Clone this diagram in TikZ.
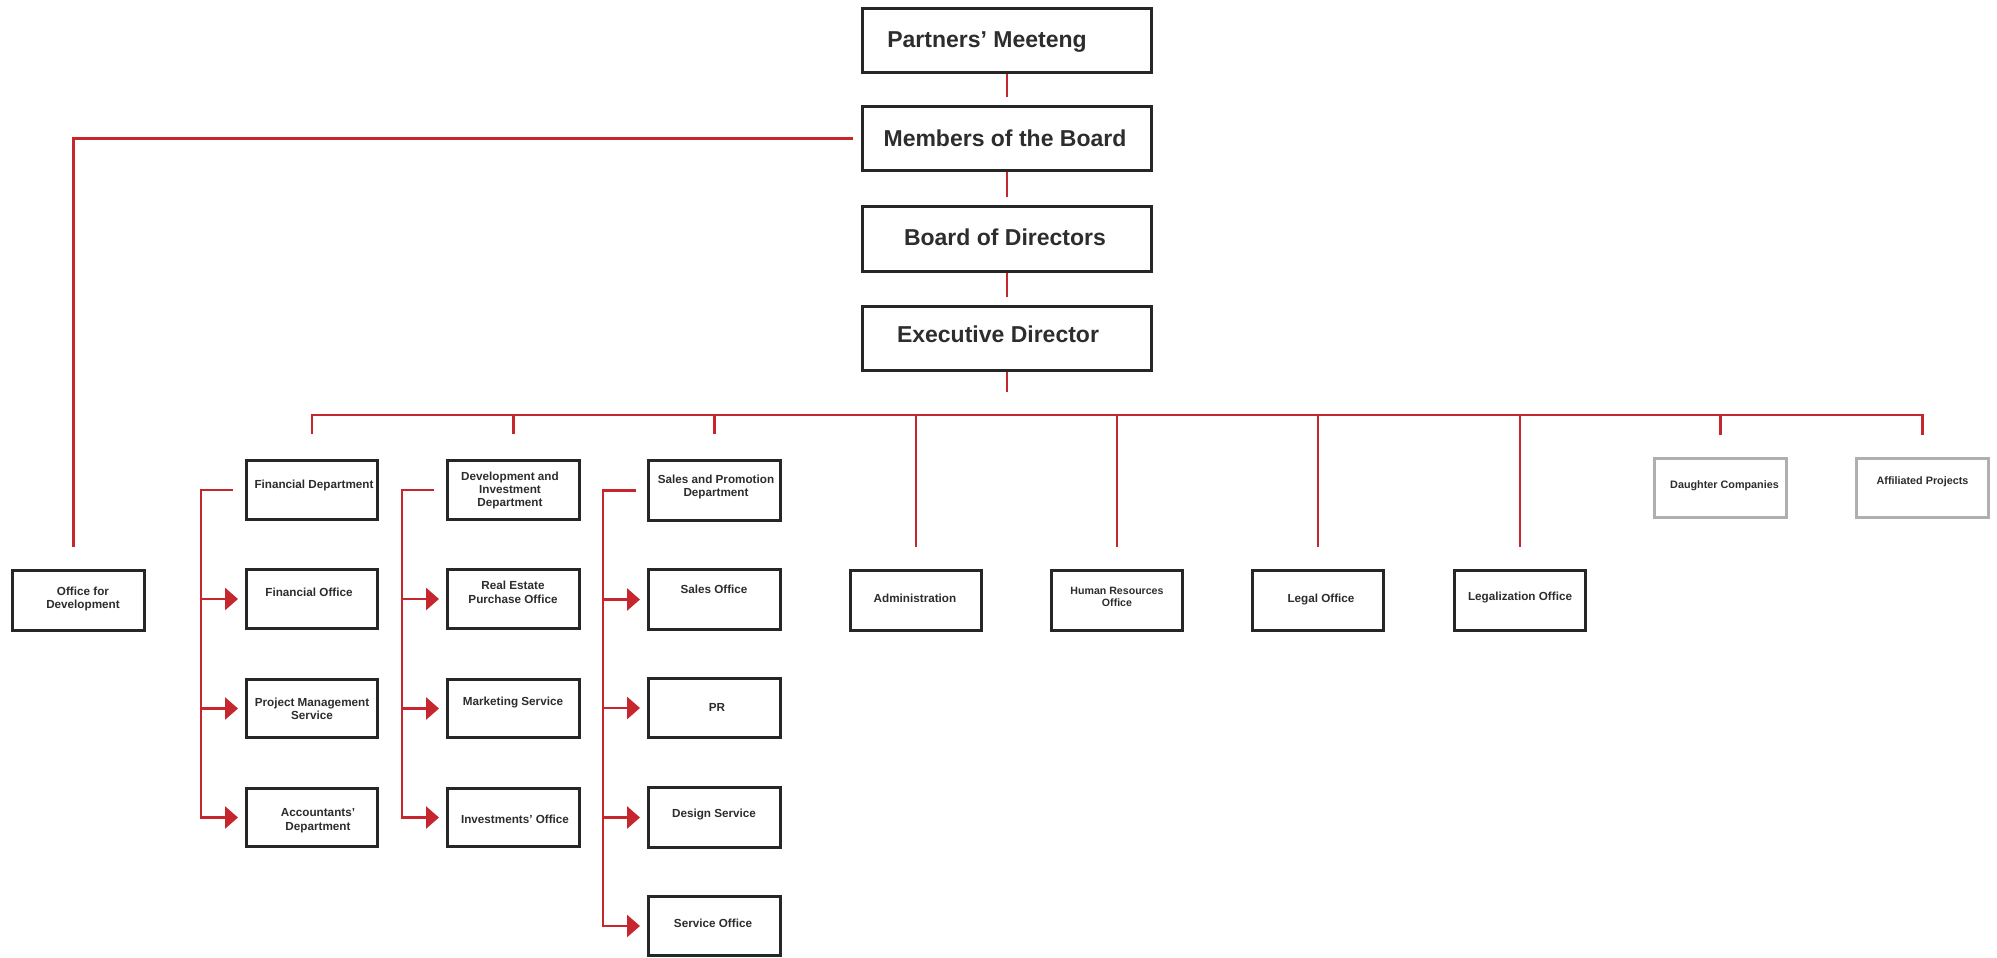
\documentclass[tikz,border=0pt]{standalone}
\usepackage{fontspec}
\setmainfont{Liberation Sans}
\usetikzlibrary{arrows.meta,calc}
\definecolor{redc}{RGB}{198,38,45}
\definecolor{boxc}{RGB}{38,38,38}
\definecolor{txtc}{RGB}{45,45,45}
\definecolor{grayc}{RGB}{175,175,175}
\begin{document}
\begin{tikzpicture}[x=1pt,y=-1pt,
  bx/.style n args={2}{draw=boxc,line width=3pt,fill=white,inner sep=0pt,minimum width=#1pt,minimum height=#2pt},
  gbx/.style n args={2}{bx={#1}{#2},draw=grayc},
  bigt/.style={font=\fontsize{23}{27}\selectfont\bfseries,text=txtc,inner sep=0pt},
  smt/.style={font=\fontsize{11.7}{13.5}\selectfont\bfseries,text=txtc,align=center,inner sep=0pt},
  redline/.style={draw=redc,line width=2.8pt},
  redarr/.style={redline,-{Triangle[length=13pt,width=22pt]}}]
\useasboundingbox (0,0) rectangle (1997,958);
% top chain
\node[bx={289}{64}] (pm) at (1007,40.5) {};
\node[bx={289}{64}] (mb) at (1007,138.5) {};
\node[bx={289}{65}] (bd) at (1007,239) {};
\node[bx={289}{64}] (ed) at (1007,338.5) {};
\node[bigt] (pm-t) at (987,42) {Partners’ Meeteng};
\node[bigt] (mb-t) at (1005,138) {Members of the Board};
\node[bigt] (bd-t) at (1005,237) {Board of Directors};
\node[bigt] (ed-t) at (998,334) {Executive Director};
% office for development
\node[bx={132}{60}] (ofd) at (78.5,600.5) {};
\node[smt] (ofd-t) at (83,599) {Office for\\Development};
% financial column
\node[bx={131}{59}] (find) at (312,490) {};
\node[bx={131}{59}] (fo) at (312,599) {};
\node[bx={131}{58}] (pms) at (312,708.5) {};
\node[bx={131}{58}] (acc) at (312,817.5) {};
\node[smt] (find-t) at (314,485) {Financial Department};
\node[smt] (fo-t) at (309,592) {Financial Office};
\node[smt] (pms-t) at (312,709) {Project Management\\Service};
\node[smt] (acc-t) at (318,820.5) {Accountants’\\Department};
% development column
\node[bx={132}{59}] (dev) at (513.5,490) {};
\node[bx={132}{59}] (rep) at (513.5,599) {};
\node[bx={132}{58}] (mkt) at (513.5,708.5) {};
\node[bx={132}{58}] (inv) at (513.5,817.5) {};
\node[smt,font=\fontsize{11.7}{13}\selectfont\bfseries] (dev-t) at (510,490) {Development and\\Investment\\Department};
\node[smt] (rep-t) at (513,592.5) {Real Estate\\Purchase Office};
\node[smt] (mkt-t) at (513,702) {Marketing Service};
\node[smt] (inv-t) at (515,819) {Investments’ Office};
% sales column
\node[bx={132}{60}] (sal) at (714.5,490.5) {};
\node[bx={132}{60}] (so) at (714.5,599.5) {};
\node[bx={132}{59}] (pr) at (714.5,708) {};
\node[bx={132}{60}] (des) at (714.5,817.5) {};
\node[bx={132}{59}] (svc) at (714.5,926) {};
\node[smt,font=\fontsize{11.7}{13}\selectfont\bfseries] (sal-t) at (716,486.5) {Sales and Promotion\\Department};
\node[smt] (so-t) at (714,589) {Sales Office};
\node[smt] (pr-t) at (717,707) {PR};
\node[smt] (des-t) at (714,814) {Design Service};
\node[smt] (svc-t) at (713,923) {Service Office};
% row of offices
\node[bx={131}{60}] (adm) at (916,600.5) {};
\node[bx={131}{60}] (hr) at (1117,600.5) {};
\node[bx={131}{60}] (leg) at (1318,600.5) {};
\node[bx={131}{60}] (lgz) at (1520,600.5) {};
\node[smt] (adm-t) at (915,598) {Administration};
\node[smt,font=\fontsize{10.6}{12}\selectfont\bfseries] (hr-t) at (1117,597) {Human Resources\\Office};
\node[smt] (leg-t) at (1321,599) {Legal Office};
\node[smt] (lgz-t) at (1520,597) {Legalization Office};
% gray boxes
\node[gbx={132}{59}] (dau) at (1720.5,488) {};
\node[gbx={132}{59}] (aff) at (1922.5,488) {};
\node[smt,font=\fontsize{10.8}{12}\selectfont\bfseries] (dau-t) at (1724.5,486) {Daughter Companies};
\node[smt,font=\fontsize{10.8}{12}\selectfont\bfseries] (aff-t) at (1922.5,482) {Affiliated Projects};
% connectors top
\draw[redline,shorten >=8pt] (pm.south) -- (mb.north);
\draw[redline,shorten >=8pt] (mb.south) -- (bd.north);
\draw[redline,shorten >=8pt] (bd.south) -- (ed.north);
\coordinate (bus) at (1007,415);
\draw[redline] (ed.south) -- ++(0,20);
\draw[redline] ([xshift=-8pt]mb.west) -| ([xshift=-5pt,yshift=22pt]ofd.north);
% bus
\draw[redline] ([yshift=25pt]find.north) -- (find.north |- bus) -- (aff.north |- bus) -- ([yshift=22pt]aff.north);
\draw[redline] (dev.north |- bus) -- ([yshift=25pt]dev.north);
\draw[redline] (sal.north |- bus) -- ([yshift=25pt]sal.north);
\draw[redline] (adm.north |- bus) -- ([yshift=22pt]adm.north);
\draw[redline] (hr.north |- bus) -- ([yshift=22pt]hr.north);
\draw[redline] (leg.north |- bus) -- ([yshift=22pt]leg.north);
\draw[redline] (lgz.north |- bus) -- ([yshift=22pt]lgz.north);
\draw[redline] (dau.north |- bus) -- ([yshift=22pt]dau.north);
% brackets
\coordinate (fbar) at (201,0);
\coordinate (dbar) at (402,0);
\coordinate (sbar) at (603,0);
\draw[redarr] ([xshift=-12pt]find.west) -| (fbar |- acc.west) -- ([xshift=-7pt]acc.west);
\draw[redarr] (fbar |- fo.west) -- ([xshift=-7pt]fo.west);
\draw[redarr] (fbar |- pms.west) -- ([xshift=-7pt]pms.west);
\draw[redarr] ([xshift=-12pt]dev.west) -| (dbar |- inv.west) -- ([xshift=-7pt]inv.west);
\draw[redarr] (dbar |- rep.west) -- ([xshift=-7pt]rep.west);
\draw[redarr] (dbar |- mkt.west) -- ([xshift=-7pt]mkt.west);
\draw[redarr] ([xshift=-11pt]sal.west) -| (sbar |- svc.west) -- ([xshift=-7pt]svc.west);
\draw[redarr] (sbar |- so.west) -- ([xshift=-7pt]so.west);
\draw[redarr] (sbar |- pr.west) -- ([xshift=-7pt]pr.west);
\draw[redarr] (sbar |- des.west) -- ([xshift=-7pt]des.west);
\end{tikzpicture}
\end{document}
